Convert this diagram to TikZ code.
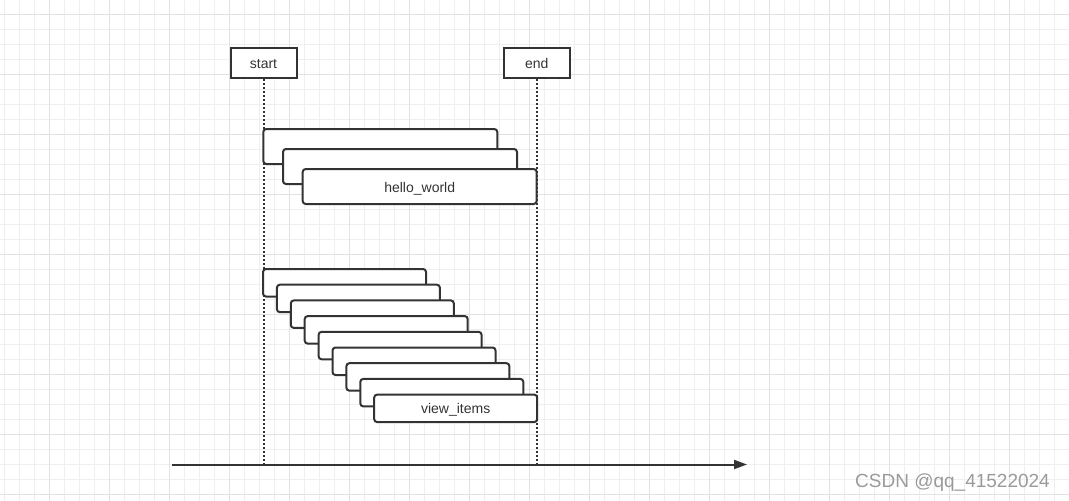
\documentclass[tikz,border=0pt]{standalone}
\usepackage{fontspec}
\setmainfont{Liberation Sans}
\usepackage{xcolor}
\usetikzlibrary{arrows.meta,positioning,calc}
\definecolor{ink}{HTML}{333333}
\definecolor{gridmin}{HTML}{EFEFEF}
\definecolor{gridmaj}{HTML}{E2E2E2}
\definecolor{wmark}{HTML}{9A9A9A}

\begin{document}
\begin{tikzpicture}[
  x=1pt, y=-1pt,
  font=\fontsize{14}{16}\selectfont, text=ink,
  gmin/.style ={draw=gridmin, line width=1pt},
  gmaj/.style ={draw=gridmaj, line width=1pt},
  actor/.style={draw=ink, line width=2pt, fill=white, inner sep=0pt,
                text height=11pt, text depth=0pt,
                minimum width=66pt, minimum height=30pt},
  stk/.style  ={draw=ink, line width=2pt, fill=white, rounded corners=3pt,
                inner sep=0pt, outer sep=0pt, anchor=north west,
                text height=11pt, text depth=0pt},
  life/.style ={draw=ink, line width=2pt, dash pattern=on 2pt off 2pt},
  fl/.style   ={draw=ink, line width=2pt, -{Triangle[length=13pt,width=9pt]}}]

\useasboundingbox (0,0) rectangle (1069,501);

% background grid
\foreach \x in {4,19,...,1069} \draw[gmin] (\x,0) -- (\x,501);
\foreach \y in {-1,14,...,501} \draw[gmin] (0,\y) -- (1069,\y);
\foreach \x in {49,109,...,1069} \draw[gmaj] (\x,0) -- (\x,501);
\foreach \y in {14,74,...,501} \draw[gmaj] (0,\y) -- (1069,\y);

\node[actor] (start) at (263.5,62.5) {start};
\node[actor] (end) at (536.7,62.5) {end};

% time axis
\coordinate (t0) at (172,464.5);
\coordinate (t1) at (747,464.5);
\coordinate (sA) at (start.south |- t0);
\coordinate (eA) at (end.south |- t0);
\draw[life] (start.south) -- (sA);
\draw[life] (end.south) -- (eA);
\draw[fl] (t0) -- (t1);

% hello_world calls
\foreach \k in {0,1,2}
  \node[stk, minimum width=234pt, minimum height=35pt] (hw\k)
    at ({263.3+19.7*\k},{129+20*\k}) {\ifnum\k=2 hello\_world\fi};

% view_items calls
\foreach \k in {0,...,8}
  \node[stk, minimum width=163pt, minimum height=27.5pt] (vi\k)
    at ({263+13.9*\k},{269+15.7*\k}) {\ifnum\k=8 view\_items\fi};

\node[anchor=base west, inner sep=0pt, text=wmark,
  font=\fontsize{19}{21}\selectfont]
  (wm) at (855,487.5) {CSDN @qq\_41522024};
\end{tikzpicture}
\end{document}
